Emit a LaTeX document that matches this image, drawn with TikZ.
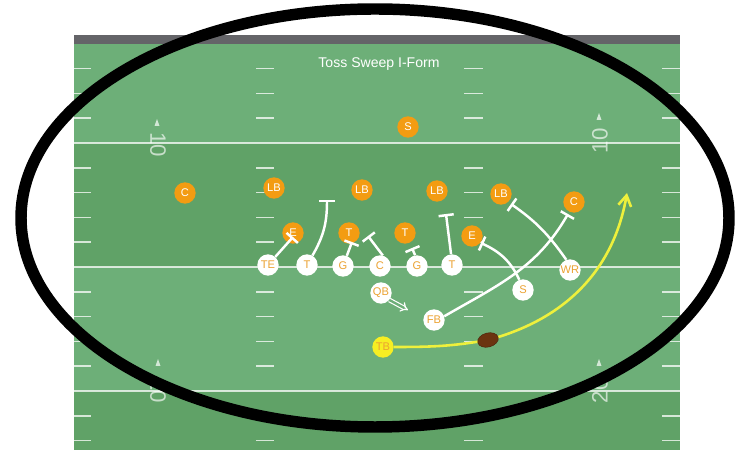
\documentclass[tikz,border=0pt]{standalone}
\usepackage{fontspec}
\setmainfont{Liberation Sans}
\usepackage{tikz}
\tikzset{
	defense/.style={circle,fill=dorange,text=white,minimum size=0.64cm,inner sep=0pt,font=\fontsize{9.5}{10}\selectfont},
	offense/.style={circle,fill=white,text=oorange,minimum size=0.64cm,inner sep=0pt,font=\fontsize{9.5}{10}\selectfont},
	route/.style={draw=white,line width=2.1pt,-{Bar[width=13pt]}},
	hash/.style={draw=white,draw opacity=0.75,line width=1.3pt},
	numeral/.style={text=white,text opacity=0.65,font=\fontsize{19}{19}\selectfont,inner sep=0pt}
}
\usetikzlibrary{arrows.meta,shapes.geometric}
\usepackage{xcolor}
\definecolor{fieldlight}{HTML}{6DAF78}
\definecolor{fielddark}{HTML}{60A267}
\definecolor{bargrey}{HTML}{646468}
\definecolor{dorange}{HTML}{F39C12}
\definecolor{oorange}{HTML}{EBA232}
\definecolor{tbyellow}{HTML}{F7EE23}
\definecolor{runyellow}{HTML}{EEF03C}
\definecolor{leather}{HTML}{6B3410}

\begin{document}
\begin{tikzpicture}[x=0.03cm,y=0.03cm]
\useasboundingbox (0,0) rectangle (743,450);
% field
\fill[fielddark] (74,0) rectangle (680,406);
\fill[fieldlight] (74,307) rectangle (680,406);
\fill[fieldlight] (74,59) rectangle (680,183);
\fill[bargrey] (74,406) rectangle (680,415);
\foreach \y in {307,183,59}
	\draw[hash] (74,\y) -- (680,\y);
\foreach \k in {-3,...,12}{
	\pgfmathtruncatemacro\m{mod(\k+20,5)}
	\ifnum\m>0
		\foreach \a/\b in {74/91,256/274,464/483,662/680}
			\draw[hash] (\a,{307-24.8*\k}) -- (\b,{307-24.8*\k});
	\fi
}
%
\node[numeral,rotate=-90] (n1) at (158,305) {10};
\node[numeral,rotate=90] (n2) at (600,309) {10};
\node[numeral,rotate=-90] (n3) at (158,59) {20};
\node[numeral,rotate=90] (n4) at (600,59) {20};
\foreach \x/\y in {157/327,599/333,158/87,599/87}
	\fill[white,opacity=0.7] (\x-2.5,\y-3) -- (\x+2.5,\y-3) -- (\x,\y+4) -- cycle;
\node[text=white,font=\fontsize{12}{12}\selectfont] (title) at (379,386) {Toss Sweep I-Form};
%
\begin{scope}[every node/.style=defense]
\node (ds) at (408,323) {S};
\node (dc1) at (185,257) {C};
\node (dlb1) at (274,262) {LB};
\node (dlb2) at (362,260) {LB};
\node (dlb3) at (437,259) {LB};
\node (dlb4) at (501,256) {LB};
\node (dc2) at (574,248) {C};
\node (de1) at (293,217) {E};
\node (dt1) at (349,217) {T};
\node (dt2) at (405,217) {T};
\node (de2) at (472,214) {E};
\end{scope}
\begin{scope}[every node/.style=offense]
\node (te) at (268,185) {TE};
\node (t1) at (307,185) {T};
\node (g1) at (343,184) {G};
\node (c) at (380,184) {C};
\node (g2) at (417,184) {G};
\node (t2) at (452,185) {T};
\node (wr) at (570,180) {WR};
\node (s) at (523,160) {S};
\node (qb) at (381,157) {QB};
\node (fb) at (434,130) {FB};
\node[fill=tbyellow] (tb) at (383,103) {TB};
\end{scope}
%
\coordinate (b1) at (293,213);
\coordinate (b2) at (327,250);
\coordinate (b3) at (352,208);
\coordinate (b4) at (368,214);
\coordinate (b5) at (412,202);
\coordinate (b6) at (446,236);
\coordinate (b7) at (481,207);
\coordinate (b8) at (511,246);
\coordinate (b9) at (568,236);
\coordinate (qbend) at (408,140);
\coordinate (tip) at (627,257);
%
\draw[route] (te) -- (b1);
\draw[route] (t1.60) to[out=60,in=-90] (b2);
\draw[route] (g1) -- (b3);
\draw[route] (c.75) -- (b4);
\draw[route] (g2.100) -- (b5);
\draw[route] (t2.95) -- (b6);
\draw[route] (s.110) to[out=115,in=-25] (b7);
\draw[route] (wr.110) to[out=125,in=-35] (b8);
\draw[route] (fb.20) to[out=30,in=-120] (b9);
\draw[draw=white,line width=1pt,double=fieldlight,double distance=2pt,-{Implies}] (qb.-40) -- (qbend);
%
\coordinate (bc) at (488,110);
\draw[runyellow,line width=2.2pt,-{Straight Barb[length=9pt,width=11pt]}] (tb) to[out=0,in=190] (bc) to[out=15,in=-100] (tip);
\node[ellipse,fill=leather,draw=leather!70!black,minimum width=18pt,minimum height=12pt,inner sep=0pt,rotate=15] (ball) at (bc) {};
%
\draw[line width=9.8pt] (375,232) ellipse (354 and 209);
\end{tikzpicture}
\end{document}
